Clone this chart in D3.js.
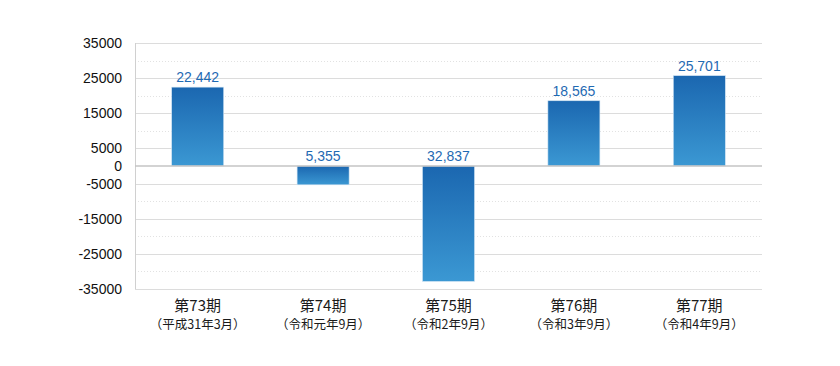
<!DOCTYPE html>
<html>
<head>
<meta charset="utf-8">
<script src="https://cdn.jsdelivr.net/npm/d3@7"></script>
<style>
  body { margin: 0; background: #fff; }
  svg { display: block; font-family: "Liberation Sans", Arial, sans-serif; }
</style>
</head>
<body>
<svg id="chart"></svg>
<script>
// Chart data
const periods = ["第73期", "第74期", "第75期", "第76期", "第77期"];
const dates = ["（平成31年3月）", "（令和元年9月）", "（令和2年9月）", "（令和3年9月）", "（令和4年9月）"];
const values = [22442, -5355, -32837, 18565, 25701];
const tickValues = [35000, 25000, 15000, 5000, 0, -5000, -15000, -25000, -35000];
const minorValues = [30000, 20000, 10000, -10000, -20000, -30000];

const width = 840;
const height = 366;
const margin = { top: 43, right: 78, bottom: 77, left: 135 };

const svg = d3.select("#chart")
    .attr("width", width)
    .attr("height", height);

const x = d3.scaleBand()
    .domain(periods)
    .range([margin.left, width - margin.right]);

const y = d3.scaleLinear()
    .domain([-35000, 35000])
    .range([height - margin.bottom, margin.top]);

// Gradient for the bars
const grad = svg.append("defs").append("linearGradient")
    .attr("id", "barGrad")
    .attr("x1", 0).attr("y1", 0).attr("x2", 0).attr("y2", 1);
grad.append("stop").attr("offset", "0%").attr("stop-color", "#1b67b0");
grad.append("stop").attr("offset", "100%").attr("stop-color", "#3b98d3");

// Dotted minor grid
svg.append("g")
    .selectAll("line")
    .data(minorValues)
    .join("line")
    .attr("x1", margin.left)
    .attr("x2", width - margin.right)
    .attr("y1", d => Math.round(y(d)) + 0.5)
    .attr("y2", d => Math.round(y(d)) + 0.5)
    .attr("stroke", "#e2e2e2")
    .attr("stroke-dasharray", "1,2");

// Solid grid at labelled ticks
svg.append("g")
    .selectAll("line")
    .data(tickValues.filter(d => d !== 0))
    .join("line")
    .attr("x1", margin.left)
    .attr("x2", width - margin.right)
    .attr("y1", d => Math.round(y(d)) + 0.5)
    .attr("y2", d => Math.round(y(d)) + 0.5)
    .attr("stroke", "#dcdcdc");

// Left axis line
svg.append("line")
    .attr("x1", margin.left + 0.5)
    .attr("x2", margin.left + 0.5)
    .attr("y1", margin.top)
    .attr("y2", height - margin.bottom)
    .attr("stroke", "#d0d0d0");

// Y tick labels (plain hyphen for negatives)
const yAxis = svg.append("g")
    .attr("transform", `translate(${margin.left - 10},0)`)
    .call(d3.axisLeft(y).tickValues(tickValues).tickSize(0).tickFormat(d => String(d)));
yAxis.select(".domain").remove();
yAxis.selectAll("text")
    .attr("font-size", 14)
    .attr("font-family", "Liberation Sans, Arial, sans-serif")
    .attr("fill", "#111");

const barW = 52;

// Bars
svg.append("g")
    .selectAll("rect")
    .data(values)
    .join("rect")
    .attr("x", (d, i) => x(periods[i]) + (x.bandwidth() - barW) / 2)
    .attr("y", d => y(Math.max(0, d)))
    .attr("width", barW)
    .attr("height", d => Math.abs(y(d) - y(0)))
    .attr("fill", "url(#barGrad)")
    .attr("stroke", "#cfe3f3")
    .attr("stroke-width", 0.6);

// Zero line
svg.append("line")
    .attr("x1", margin.left)
    .attr("x2", width - margin.right)
    .attr("y1", y(0))
    .attr("y2", y(0))
    .attr("stroke", "#c4c4c4")
    .attr("stroke-width", 1.5);

// Value labels (absolute values, above bar or above zero line)
svg.append("g")
    .selectAll("text")
    .data(values)
    .join("text")
    .attr("x", (d, i) => x(periods[i]) + x.bandwidth() / 2)
    .attr("y", d => y(Math.max(0, d)) - 5)
    .attr("text-anchor", "middle")
    .attr("font-size", 14)
    .attr("fill", "#1f6ab3")
    .text(d => d3.format(",")(Math.abs(d)));

// Category labels
const cats = svg.append("g")
    .selectAll("g")
    .data(periods)
    .join("g")
    .attr("transform", d => `translate(${x(d) + x.bandwidth() / 2},0)`);

cats.append("text")
    .attr("y", 311)
    .attr("text-anchor", "middle")
    .attr("font-size", 15)
    .attr("font-family", "Noto Sans CJK JP, sans-serif")
    .attr("fill", "#1a1a1a")
    .text(d => d);

cats.append("text")
    .attr("y", 329)
    .attr("text-anchor", "middle")
    .attr("font-size", 12.5)
    .attr("font-family", "Noto Sans CJK JP, sans-serif")
    .attr("fill", "#1a1a1a")
    .text((d, i) => dates[i]);
</script>
</body>
</html>
